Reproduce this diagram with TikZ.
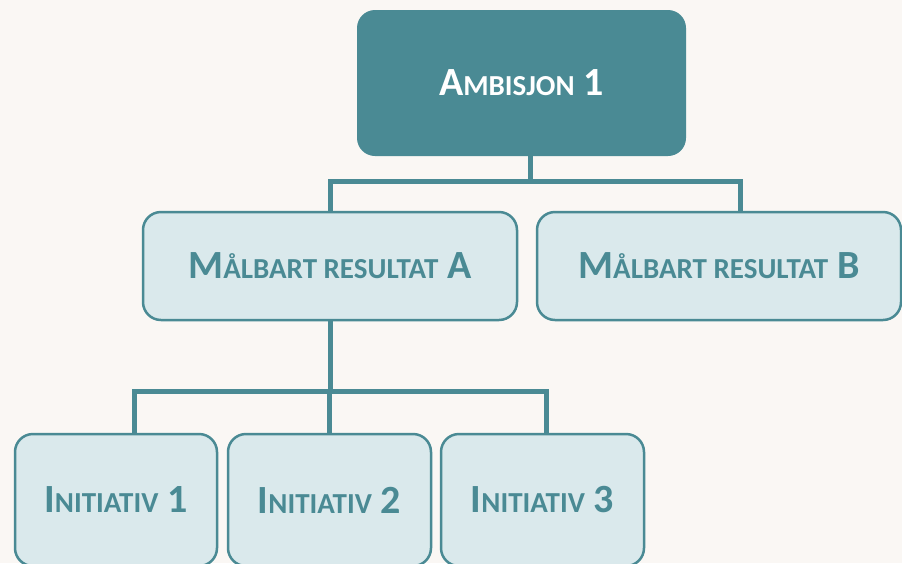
\documentclass[tikz,border=0pt]{standalone}
\usepackage{fontspec}
\setmainfont{Carlito}
\definecolor{teal1}{RGB}{74,138,148}
\definecolor{pale}{RGB}{218,233,236}
\definecolor{paper}{RGB}{250,247,244}
\newcommand{\petit}[1]{{\fontsize{29}{34}\selectfont #1}}

\begin{document}
\begin{tikzpicture}
  [x=1pt,y=-1pt,
   every node/.style={rounded corners=18pt,font=\fontsize{40}{46}\selectfont\bfseries},
   topbox/.style={fill=teal1,text=white},
   subbox/.style={fill=pale,draw=teal1,line width=2.5pt,text=teal1},
   link/.style={draw=teal1,line width=5pt}]
  \fill[paper] (0,0) rectangle (902,563);
  \useasboundingbox (0,0) rectangle (902,563);

  \node[topbox,minimum width=329pt,minimum height=146pt] (amb) at (521.5,83) {A\petit{MBISJON} 1};
  \node[subbox,minimum width=374pt,minimum height=108pt] (resa) at (330,266) {M\petit{ÅLBART RESULTAT} A};
  \node[subbox,minimum width=364pt,minimum height=108pt] (resb) at (719,266) {M\petit{ÅLBART RESULTAT} B};
  \node[subbox,minimum width=202pt,minimum height=132pt] (ini1) at (116,500) {I\petit{NITIATIV} 1};
  \node[subbox,minimum width=203pt,minimum height=132pt] (ini2) at (329.5,500) {I\petit{NITIATIV} 2};
  \node[subbox,minimum width=203pt,minimum height=132pt] (ini3) at (542.5,500) {I\petit{NITIATIV} 3};

  \draw[link] ([xshift=8.5pt]amb.south) -- ++(0,25) coordinate (ja);
  \draw[link] (resa.north) |- (ja) -| ([xshift=21pt]resb.north);

  \draw[link] (resa.south) -- ++(0,70) coordinate (jb);
  \foreach \to/\dx in {ini1/18pt,ini2/0pt,ini3/4pt}
    \draw[link] (jb) -| ([xshift=\dx]\to.north);

\end{tikzpicture}
\end{document}
